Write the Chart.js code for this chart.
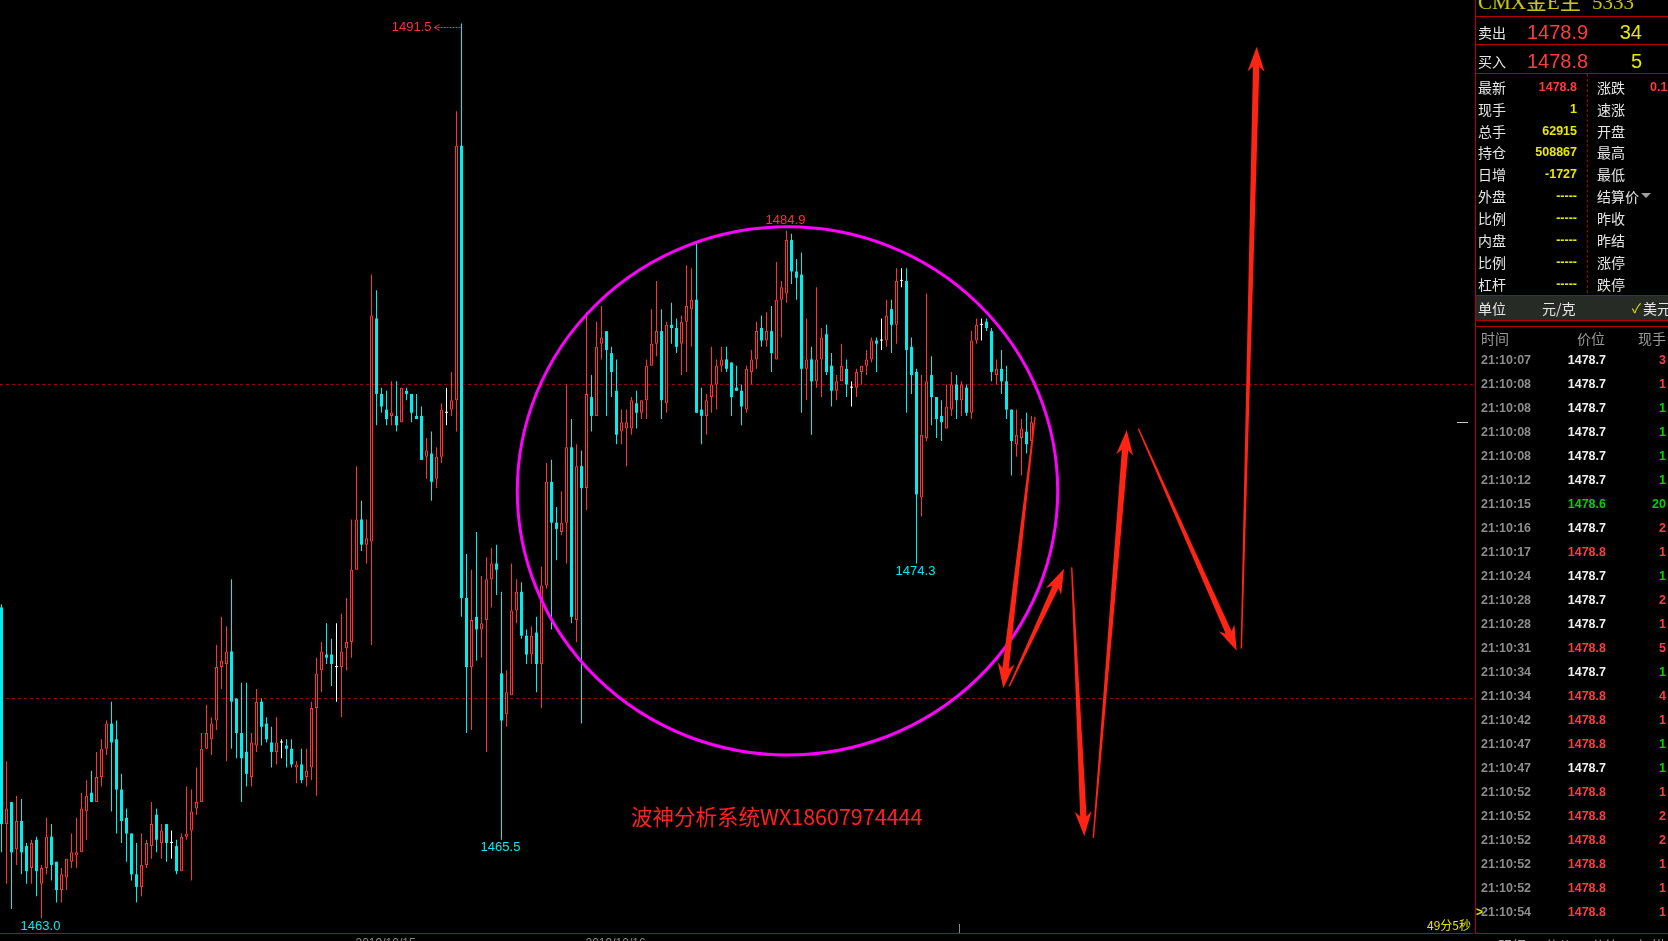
<!DOCTYPE html>
<html>
<head>
<meta charset="utf-8">
<script src="https://cdn.jsdelivr.net/npm/chart.js@4.4.0/dist/chart.umd.min.js"></script>
<style>
body{margin:0;background:#000;width:1668px;height:941px;overflow:hidden;position:relative;font-family:"Liberation Sans",Arial,sans-serif}
#wrap{position:absolute;left:0;top:0;width:1473px;height:941px}
</style>
</head>
<body>
<div id="wrap"><canvas id="kline"></canvas></div>
<script>
// 1-minute candles
const opens = [
  1472.9,1466.0,1466.7,1465.2,1466.1,1465.3,1464.6,1465.5,1464.1,1464.6,
  1465.6,1464.8,1463.9,1464.3,1464.8,1465.0,1465.1,1466.4,1467.0,1466.7,
  1467.5,1468.4,1469.2,1468.7,1467.1,1466.2,1465.7,1464.4,1464.0,1464.7,
  1465.3,1466.3,1465.4,1466.0,1465.4,1465.3,1464.5,1465.6,1465.8,1466.5,
  1466.7,1468.4,1468.7,1469.3,1471.0,1471.1,1471.5,1470.0,1468.9,1468.3,
  1467.5,1468.5,1469.9,1469.2,1468.6,1468.3,1468.6,1468.5,1468.4,1467.8,
  1467.9,1467.5,1467.8,1469.7,1470.9,1471.4,1471.4,1471.0,1471.0,1471.6,
  1471.8,1474.1,1475.7,1474.9,1475.0,1482.1,1479.7,1479.2,1479.0,1479.0,
  1478.8,1479.8,1479.7,1479.0,1479.0,1477.7,1477.8,1477.0,1477.7,1479.1,
  1479.2,1479.5,1487.6,1473.2,1471.0,1472.6,1472.2,1472.5,1473.8,1474.3,
  1470.8,1469.5,1470.1,1472.8,1473.4,1472.0,1471.4,1472.1,1471.1,1473.6,
  1476.9,1475.6,1475.3,1475.6,1478.0,1472.5,1477.4,1476.7,1479.6,1479.0,
  1481.3,1481.7,1481.0,1479.8,1478.5,1478.6,1478.6,1479.4,1479.1,1479.5,
  1480.6,1481.3,1481.7,1479.4,1481.9,1481.8,1481.3,1482.0,1482.4,1482.7,
  1479.2,1479.0,1479.6,1480.0,1480.6,1480.8,1480.7,1479.9,1479.8,1479.2,
  1480.4,1480.8,1481.8,1481.4,1481.7,1480.8,1482.7,1482.9,1484.6,1483.6,
  1483.5,1480.5,1480.8,1480.1,1480.8,1481.6,1480.6,1479.8,1480.1,1480.5,
  1479.9,1479.9,1480.4,1480.6,1480.8,1481.4,1481.4,1481.4,1482.4,1481.9,
  1483.3,1483.3,1481.2,1480.4,1476.4,1478.3,1480.3,1479.6,1479.0,1478.6,
  1479.2,1480.0,1479.5,1479.9,1479.1,1481.4,1481.9,1482.0,1481.7,1480.3,
  1480.5,1480.1,1479.2,1478.1,1478.3,1478.5,1478.2
];
const highs = [
  1473.0,1468.0,1466.7,1466.9,1466.8,1465.4,1465.5,1465.6,1464.7,1466.2,
  1466.0,1464.8,1464.6,1464.9,1465.7,1466.2,1467.0,1467.4,1467.7,1468.3,
  1468.7,1469.3,1469.9,1469.3,1467.6,1466.5,1465.7,1465.4,1465.7,1465.5,
  1466.7,1466.5,1466.0,1466.0,1465.8,1465.5,1465.7,1467.2,1467.1,1467.8,
  1468.9,1469.8,1469.4,1471.7,1472.6,1472.3,1473.8,1470.0,1470.5,1470.5,
  1468.9,1470.3,1470.0,1469.4,1469.1,1469.4,1468.7,1468.7,1468.7,1468.0,
  1468.4,1468.4,1469.9,1471.3,1471.8,1472.4,1471.9,1472.4,1472.7,1473.2,
  1475.7,1477.4,1476.3,1475.7,1483.5,1483.0,1479.9,1479.8,1480.1,1480.1,
  1479.9,1479.9,1479.7,1479.7,1479.3,1478.3,1478.5,1478.0,1479.4,1479.9,
  1480.4,1488.7,1491.5,1474.6,1474.1,1475.3,1473.9,1474.5,1474.8,1474.9,
  1473.4,1470.9,1474.3,1473.8,1473.7,1472.2,1472.3,1472.6,1474.2,1477.5,
  1477.6,1476.1,1476.6,1480.0,1478.9,1478.1,1477.9,1482.3,1480.3,1482.0,
  1482.5,1481.7,1481.2,1480.8,1479.2,1479.2,1479.6,1479.8,1479.5,1480.8,
  1482.4,1483.3,1482.4,1482.0,1482.6,1482.1,1482.2,1483.8,1483.7,1484.5,
  1479.9,1479.7,1481.2,1480.8,1481.2,1481.2,1480.7,1480.6,1480.0,1480.6,
  1481.1,1482.0,1482.2,1482.3,1482.5,1483.9,1483.3,1484.9,1484.8,1484.0,
  1484.2,1482.1,1481.2,1483.1,1481.8,1481.9,1481.0,1480.3,1481.3,1480.8,
  1480.1,1480.5,1480.6,1481.1,1481.5,1481.5,1482.1,1482.7,1482.7,1483.7,
  1483.7,1483.7,1481.5,1480.5,1480.3,1482.9,1480.9,1479.6,1479.5,1480.0,
  1480.4,1480.3,1480.1,1480.0,1481.7,1482.1,1482.1,1482.1,1481.8,1480.8,
  1481.1,1480.6,1479.2,1479.2,1478.9,1479.1,1479.0
];
const lows = [
  1465.1,1464.1,1463.3,1464.7,1464.4,1464.1,1464.1,1463.7,1463.0,1464.4,
  1464.2,1463.5,1463.5,1463.9,1464.6,1464.6,1465.1,1465.5,1466.7,1466.7,
  1467.2,1468.2,1466.4,1465.7,1465.4,1464.8,1464.2,1463.5,1463.7,1464.6,
  1464.9,1465.1,1464.9,1464.8,1464.9,1464.4,1464.5,1465.5,1464.2,1466.3,
  1466.7,1468.4,1468.2,1469.0,1470.3,1468.0,1468.4,1468.1,1466.7,1467.2,
  1467.2,1468.3,1468.5,1468.6,1467.8,1467.9,1468.1,1467.8,1467.8,1467.3,
  1467.3,1467.2,1467.4,1466.9,1470.2,1471.1,1470.4,1469.9,1469.4,1470.9,
  1471.3,1474.1,1474.7,1474.3,1471.7,1478.7,1479.1,1478.7,1478.7,1478.5,
  1478.8,1479.5,1478.8,1478.9,1477.6,1477.0,1476.3,1476.7,1477.5,1478.7,
  1479.0,1478.5,1472.6,1468.9,1469.0,1471.2,1471.3,1468.3,1472.9,1473.3,
  1465.5,1469.1,1470.1,1472.4,1471.9,1471.1,1471.1,1470.2,1469.7,1473.5,
  1472.2,1474.4,1475.2,1474.3,1472.4,1471.8,1469.2,1476.0,1478.5,1479.0,
  1480.8,1479.0,1479.6,1478.1,1478.1,1477.4,1478.4,1478.6,1478.9,1478.9,
  1480.6,1480.9,1478.9,1479.1,1481.3,1481.0,1480.3,1480.4,1481.2,1479.1,
  1478.1,1478.4,1479.1,1479.2,1480.4,1480.4,1479.0,1479.8,1478.7,1479.1,
  1480.0,1480.5,1481.2,1481.2,1480.4,1480.8,1481.5,1482.6,1483.2,1482.7,
  1479.1,1479.5,1478.4,1479.9,1479.6,1480.3,1479.3,1479.5,1480.1,1479.6,
  1479.3,1479.6,1480.0,1480.3,1480.7,1480.4,1481.1,1481.2,1481.0,1481.3,
  1483.1,1479.1,1479.7,1474.3,1475.8,1478.2,1478.7,1478.3,1478.2,1478.6,
  1479.0,1478.9,1479.0,1479.0,1478.9,1481.3,1481.4,1481.7,1480.1,1480.0,
  1479.7,1478.9,1477.1,1477.7,1477.1,1477.8,1478.2
];
const closes = [
  1466.0,1466.5,1465.1,1466.1,1465.1,1464.5,1465.4,1464.5,1464.6,1465.6,
  1464.7,1463.9,1464.4,1464.9,1465.1,1465.1,1466.5,1466.9,1466.7,1467.5,
  1468.4,1469.2,1468.6,1467.1,1466.1,1465.7,1464.4,1464.0,1464.7,1465.4,
  1466.0,1465.5,1465.8,1465.4,1465.4,1464.5,1465.6,1465.7,1466.4,1466.7,
  1468.4,1468.9,1469.2,1471.0,1471.2,1471.5,1469.9,1468.9,1468.1,1467.6,
  1468.6,1469.9,1469.1,1468.7,1468.3,1468.6,1468.6,1468.4,1467.9,1467.9,
  1467.4,1467.7,1469.7,1470.8,1471.5,1471.3,1471.1,1471.0,1471.5,1471.8,
  1474.1,1475.7,1474.9,1475.1,1482.2,1479.7,1479.3,1478.9,1479.1,1478.7,
  1479.9,1479.7,1479.1,1478.9,1477.6,1477.9,1476.9,1477.7,1479.2,1479.1,
  1479.5,1487.6,1473.2,1471.0,1472.5,1472.2,1472.4,1473.8,1474.3,1474.1,
  1469.3,1470.2,1472.8,1473.4,1472.0,1471.4,1472.0,1471.1,1473.6,1476.9,
  1475.6,1475.4,1475.6,1478.0,1472.6,1477.4,1476.7,1479.7,1479.0,1481.2,
  1481.5,1481.1,1480.4,1478.4,1478.8,1478.8,1479.5,1479.1,1479.5,1480.6,
  1481.3,1481.7,1479.5,1481.9,1481.8,1481.2,1482.0,1482.5,1482.7,1479.1,
  1479.0,1479.5,1480.0,1480.6,1480.8,1480.5,1479.6,1479.8,1479.3,1480.5,
  1480.8,1481.7,1481.4,1481.7,1481.0,1482.7,1483.1,1484.6,1483.6,1483.4,
  1480.5,1480.8,1480.1,1480.8,1481.5,1480.4,1479.8,1480.1,1480.6,1480.0,
  1479.9,1480.4,1480.6,1480.8,1481.4,1481.3,1481.4,1482.2,1481.9,1483.3,
  1483.3,1481.1,1480.3,1476.5,1478.4,1480.1,1479.6,1478.9,1478.8,1479.3,
  1480.0,1479.5,1480.0,1479.1,1481.4,1481.9,1481.9,1481.8,1480.4,1480.5,
  1480.1,1479.2,1478.2,1478.4,1478.6,1478.1,1478.8
];

// marked extremes (candle index), dashed price levels
const peakMark = 92;
const highMarks = [157];
const lowMarks = [8, 100, 183];
const levels = [1480, 1470];

// hand drawn arrows: [fromIndex, fromPrice, toIndex, toPrice]
const arrows = [
  [206.7, 1478.97, 200.36, 1470.33],
  [201.56, 1470.39, 212.5, 1474.13],
  [214.04, 1474.18, 216.56, 1465.61],
  [218.36, 1465.56, 225.04, 1478.55],
  [227.36, 1478.60, 247.04, 1471.52],
  [247.96, 1471.59, 251.04, 1490.76]
];
// the circle round the top, in index / price units
const ring = { cx: 157.2, cy: 1476.61, rx: 54.04, ry: 8.41 };

const dateTicks = [71, 117];
const dateLabels = ['2019/10/15', '2019/10/16'];

// quote panel
const title = ['CMX金E主', '5333'];
const bookLabels = ['卖出', '买入'];
const bookPrices = ['1478.9', '1478.8'];
const bookSizes = ['34', '5'];
const leftLabels = ['最新', '现手', '总手', '持仓', '日增', '外盘', '比例', '内盘', '比例', '杠杆'];
const leftValues = ['1478.8', '1', '62915', '508867', '-1727', '-----', '-----', '-----', '-----', '-----'];
const rightLabels = ['涨跌', '速涨', '开盘', '最高', '最低', '结算价', '昨收', '昨结', '涨停', '跌停'];
const rightValues = ['0.1', '', '', '', '', '', '', '', '', ''];
const prevSettle = 1478.7;
const tickTimes = ['21:10:07','21:10:08','21:10:08','21:10:08','21:10:08','21:10:12','21:10:15','21:10:16',
  '21:10:17','21:10:24','21:10:28','21:10:28','21:10:31','21:10:34','21:10:34','21:10:42',
  '21:10:47','21:10:47','21:10:52','21:10:52','21:10:52','21:10:52','21:10:52','21:10:54'];
const tickPrices = [1478.7,1478.7,1478.7,1478.7,1478.7,1478.7,1478.6,1478.7,
  1478.8,1478.7,1478.7,1478.7,1478.8,1478.7,1478.8,1478.8,
  1478.8,1478.7,1478.8,1478.8,1478.8,1478.8,1478.8,1478.8];
const tickVols = [3,1,1,1,1,1,20,2,1,1,2,1,5,1,4,1,1,1,1,2,2,1,1,1];
const tickSides = ['B','B','S','S','S','S','S','B','B','S','B','B','B','S','B','B','S','S','B','B','B','B','B','B'];

const UP = '#ff3232';
const DOWN = '#00eeee';
const FLAT = '#ffffff';

const colors = opens.map((o, i) => closes[i] > o ? UP : (closes[i] < o ? DOWN : FLAT));

const overlay = {
  id: 'overlay',
  beforeDatasetsDraw(chart) {
    const { ctx, chartArea, scales: { y } } = chart;
    ctx.save();
    ctx.strokeStyle = '#a00000';
    ctx.lineWidth = 1;
    ctx.setLineDash([3, 3]);
    levels.forEach(p => {
      const py = Math.round(y.getPixelForValue(p)) + 0.5;
      ctx.beginPath();
      ctx.moveTo(chartArea.left, py);
      ctx.lineTo(chartArea.right, py);
      ctx.stroke();
    });
    ctx.restore();
  },
  afterDatasetsDraw(chart) {
    const { ctx, chartArea, scales: { x, y } } = chart;
    ctx.save();

    // labels on extremes
    ctx.font = '13px "Liberation Sans", Arial, sans-serif';
    ctx.textBaseline = 'middle';
    ctx.textAlign = 'center';
    highMarks.forEach(i => {
      ctx.fillStyle = UP;
      ctx.fillText(highs[i].toFixed(1), x.getPixelForValue(i) - 1, y.getPixelForValue(highs[i]) - 10);
    });
    lowMarks.forEach(i => {
      ctx.fillStyle = DOWN;
      ctx.fillText(lows[i].toFixed(1), x.getPixelForValue(i) - 1, y.getPixelForValue(lows[i]) + 8);
    });
    // top with a dashed pointer
    const px = x.getPixelForValue(peakMark);
    const py = Math.round(y.getPixelForValue(highs[peakMark])) + 4.5;
    ctx.fillStyle = UP;
    ctx.textAlign = 'right';
    ctx.fillText(highs[peakMark].toFixed(1), px - 30, py);
    ctx.strokeStyle = UP;
    ctx.lineWidth = 1;
    ctx.setLineDash([2, 1]);
    ctx.beginPath();
    ctx.moveTo(px - 27, py);
    ctx.lineTo(px - 1, py);
    ctx.stroke();
    ctx.setLineDash([]);
    ctx.beginPath();
    ctx.moveTo(px - 22, py - 3);
    ctx.lineTo(px - 27, py);
    ctx.lineTo(px - 22, py + 3);
    ctx.stroke();

    // circle
    const cx = x.getPixelForValue(ring.cx);
    const cy = y.getPixelForValue(ring.cy);
    const rx = x.getPixelForValue(ring.cx + ring.rx) - cx;
    const ry = cy - y.getPixelForValue(ring.cy + ring.ry);
    ctx.strokeStyle = '#ff00ff';
    ctx.lineWidth = 3;
    ctx.beginPath();
    ctx.ellipse(cx, cy, rx, ry, 0, 0, Math.PI * 2);
    ctx.stroke();

    // arrows, thin at the tail and thick at the head
    ctx.fillStyle = '#ff2414';
    arrows.forEach(a => {
      const x0 = x.getPixelForValue(a[0]), y0 = y.getPixelForValue(a[1]);
      const x1 = x.getPixelForValue(a[2]), y1 = y.getPixelForValue(a[3]);
      const len = Math.hypot(x1 - x0, y1 - y0);
      const ux = (x1 - x0) / len, uy = (y1 - y0) / len;
      const nx = -uy, ny = ux;
      const hl = 25, hw = 8.5, sw = 3.2;
      const bx = x1 - ux * hl, by = y1 - uy * hl;
      const jx = x1 - ux * (hl - 5), jy = y1 - uy * (hl - 5);
      ctx.beginPath();
      ctx.moveTo(x0 + nx * 0.7, y0 + ny * 0.7);
      ctx.lineTo(jx + nx * sw, jy + ny * sw);
      ctx.lineTo(bx + nx * hw, by + ny * hw);
      ctx.lineTo(x1, y1);
      ctx.lineTo(bx - nx * hw, by - ny * hw);
      ctx.lineTo(jx - nx * sw, jy - ny * sw);
      ctx.lineTo(x0 - nx * 0.7, y0 - ny * 0.7);
      ctx.closePath();
      ctx.fill();
    });

    // last price marker on the right edge
    const lp = Math.round(y.getPixelForValue(closes[closes.length - 1])) + 0.5;
    ctx.strokeStyle = '#c8c8c8';
    ctx.lineWidth = 1;
    ctx.beginPath();
    ctx.moveTo(chartArea.right - 16, lp);
    ctx.lineTo(chartArea.right - 5, lp);
    ctx.stroke();

    // bottom axis line and cut-off date labels
    ctx.fillStyle = '#b40000';
    ctx.fillRect(0, chartArea.bottom - 1, chartArea.right + 10, 1);
    ctx.fillStyle = '#8a8a8a';
    ctx.font = '12px "Liberation Sans", Arial, sans-serif';
    ctx.textAlign = 'left';
    ctx.textBaseline = 'top';
    dateTicks.forEach((i, k) => ctx.fillText(dateLabels[k], x.getPixelForValue(i) - 1, chartArea.bottom + 4));
    ctx.fillRect(959, chartArea.bottom - 10, 1, 9);
    ctx.restore();
  }
};

const ctx = document.getElementById('kline').getContext('2d');
new Chart(ctx, {
  type: 'bar',
  data: {
    datasets: [{
      label: 'wick',
      data: opens.map((o, i) => ({ x: i, y: [lows[i], highs[i]] })),
      backgroundColor: colors,
      borderWidth: 0,
      barThickness: 1,
      maxBarThickness: 1,
      grouped: false,
      inflateAmount: 0,
      order: 2
    }, {
      label: 'body',
      data: opens.map((o, i) => ({ x: i, y: [o, closes[i]] })),
      backgroundColor: colors.map(c => c === UP ? '#000000' : c),
      borderColor: colors,
      borderWidth: colors.map(c => c === UP ? 1 : 0),
      borderSkipped: false,
      barThickness: 3,
      maxBarThickness: 3,
      minBarLength: 1,
      grouped: false,
      inflateAmount: 0,
      order: 1
    }]
  },
  options: {
    responsive: true,
    maintainAspectRatio: false,
    animation: false,
    events: [],
    layout: { padding: { left: 0, right: 0, top: 0, bottom: 7 } },
    plugins: { legend: { display: false }, tooltip: { enabled: false } },
    scales: {
      x: { type: 'linear', min: -0.3, max: 294.3, offset: false, bounds: 'data', display: false },
      y: { min: 1462.5, max: 1492.245, bounds: 'data', display: false }
    }
  },
  plugins: [overlay]
});

// ---- quote panel ----
const RED = '#b40000';
const CN = 'font-family:"Noto Sans CJK SC",sans-serif;';
const AR = 'font-family:"Liberation Sans",Arial,sans-serif;';

function box(l, t, w, h, css) {
  const d = document.createElement('div');
  d.style.cssText = 'position:absolute;left:' + l + 'px;top:' + t + 'px;width:' + w + 'px;height:' + h + 'px;' + (css || '');
  document.body.appendChild(d);
  return d;
}
function text(s, x, cy, css, align) {
  const w = 300;
  const left = align === 'right' ? x - w : x;
  const d = box(left, cy - 12, w, 24, 'white-space:nowrap;' + (align ? 'text-align:' + align + ';' : '') + css + 'line-height:24px;');
  d.textContent = s;
  return d;
}

box(1475, 0, 193, 941, 'background:#000');
box(1475, 0, 1, 934, 'background:' + RED);
box(1476, 16, 192, 1, 'background:' + RED);
box(1476, 44, 192, 1, 'background:' + RED);
box(1476, 73, 192, 1, 'background:' + RED);
box(1587, 74, 0, 219, 'border-left:1px dashed #a00000');
box(1476, 295, 192, 26, 'box-sizing:border-box;background:#262b26;border-top:1px solid ' + RED + ';border-bottom:1px solid ' + RED);
box(1476, 326, 192, 1, 'background:' + RED);
box(1475, 933, 193, 1, 'background:' + RED);

const serif = 'font-family:"Liberation Serif","Noto Sans CJK SC",serif;font-size:21px;color:#c8c814;';
text(title[0], 1478, 2, serif);
text(title[1], 1592, 2, serif);

bookLabels.forEach((lab, k) => {
  const cy = 31.5 + k * 29;
  text(lab, 1478, cy, CN + 'font-size:14px;color:#e6e6e6;');
  text(bookPrices[k], 1527, cy, AR + 'font-size:20px;color:#ff3c3c;');
  text(bookSizes[k], 1642, cy, AR + 'font-size:20px;color:#e8e800;', 'right');
});

leftLabels.forEach((lab, k) => {
  const cy = 86.7 + k * 21.92;
  text(lab, 1478, cy, CN + 'font-size:14px;color:#e6e6e6;');
  text(leftValues[k], 1577, cy, AR + 'font-size:12.5px;font-weight:bold;color:' + (k === 0 ? '#ff3c3c' : '#e8e800') + ';', 'right');
  text(rightLabels[k], 1597, cy, CN + 'font-size:14px;color:#e6e6e6;');
  if (rightValues[k]) text(rightValues[k], 1650, cy, AR + 'font-size:12.5px;font-weight:bold;color:#ff3c3c;');
});
box(1641, 193, 0, 0, 'border-left:5px solid transparent;border-right:5px solid transparent;border-top:5px solid #a0a0a0');

text('单位', 1478, 307.7, CN + 'font-size:14px;color:#e6e6e6;');
text('元/克', 1542, 307.7, CN + 'font-size:14px;color:#e6e6e6;');
text('✓', 1632, 307.7, CN + 'font-size:13px;color:#e8e800;');
text('美元', 1643, 307.7, CN + 'font-size:14px;color:#e6e6e6;');

text('时间', 1481, 337.8, CN + 'font-size:14px;color:#9a9a9a;');
text('价位', 1605, 337.8, CN + 'font-size:14px;color:#9a9a9a;', 'right');
text('现手', 1666, 337.8, CN + 'font-size:14px;color:#9a9a9a;', 'right');

tickTimes.forEach((t, k) => {
  const cy = 360.4 + k * 23.98;
  const p = tickPrices[k];
  const pc = p > prevSettle ? '#ff3c3c' : (p < prevSettle ? '#00d000' : '#f0f0f0');
  text(t, 1481, cy, AR + 'font-size:12.5px;font-weight:bold;color:#8c8c8c;');
  text(p.toFixed(1), 1606, cy, AR + 'font-size:12.5px;font-weight:bold;color:' + pc + ';', 'right');
  text(String(tickVols[k]), 1666, cy, AR + 'font-size:12.5px;font-weight:bold;color:' + (tickSides[k] === 'B' ? '#ff3c3c' : '#00d000') + ';', 'right');
});
text('>', 1476, 360.4 + 23 * 23.98, AR + 'font-size:12px;font-weight:bold;color:#e8e800;');

['明细', '分价', '分笔', '扫描'].forEach((s, k) => text(s, 1498 + k * 46.5, 945, CN + 'font-size:14px;color:#9a9a9a;'));

text('49分5秒', 1471, 925, CN + 'font-size:12px;color:#e8e800;', 'right');
text('波神分析系统WX18607974444', 631, 816, CN + 'font-size:21.5px;color:#ff2020;');
</script>
</body>
</html>
